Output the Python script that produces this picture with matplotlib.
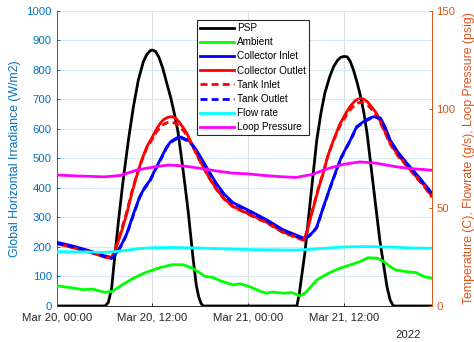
import numpy as np
import pandas as pd

import matplotlib
matplotlib.use('Agg')
import matplotlib.pyplot as plt
import matplotlib.dates as mdates

plt.rcParams['font.family'] = ['Liberation Sans', 'DejaVu Sans']
plt.rcParams['lines.scale_dashes'] = False

start = pd.Timestamp('2022-03-20 00:00')

# global horizontal irradiance, W/m2 (left axis)
psp_h = [0, 6.06, 6.47, 6.89, 7.1, 7.73, 8.35, 8.98, 9.6, 10.23, 10.86, 11.3, 11.7, 12.0, 12.4,
         12.8, 13.3, 13.8, 14.3, 14.8, 15.2, 15.7, 16.1, 16.5, 17.1, 17.5, 17.8, 18.1, 18.4,
         30.1, 30.4, 30.7, 31.1, 31.8, 32.6, 33.1, 33.6, 34.2, 34.7, 35.2, 35.6, 36.0, 36.4,
         36.8, 37.2, 37.6, 38.0, 38.5, 38.9, 39.3, 39.7, 40.1, 40.5, 41.0, 41.4, 41.8, 42.2, 47.0]
psp = [0, 0, 12, 60, 120, 285, 430, 560, 672, 765, 827, 852, 864, 867, 862,
       843, 805, 754, 705, 645, 590, 490, 405, 315, 160, 70, 31, 8, 0,
       0, 40, 100, 178, 359, 562, 650, 720, 775, 810, 832, 842, 845, 844,
       828, 799, 762, 720, 655, 585, 495, 404, 313, 223, 135, 65, 20, 0, 0]

# ambient temperature, C
amb_h = [0, 1.5, 3.3, 4.5, 6.06, 7, 8, 9.6, 11, 12.95, 14.5, 15.9, 17, 18, 18.6, 19.5,
         20.5, 22.1, 23, 24.2, 25.5, 26.3, 27, 28.4, 29.5, 30.5, 31.2, 32.6, 34, 35.5,
         36.8, 38, 39, 40.2, 41, 41.8, 42.5, 43.9, 45, 46, 47]
amb = [10.2, 9.5, 8.3, 8.6, 6.9, 7.5, 10.2, 14.1, 16.8, 19.5, 21.0, 20.9, 19.2, 16.7, 15.0, 14.6,
       12.8, 10.7, 11.3, 9.8, 7.5, 6.5, 7.1, 6.5, 6.8, 5.1, 6.8, 13.2, 16.5, 19.2,
       20.9, 22.5, 24.5, 24.3, 22.5, 20.0, 18.3, 17.4, 17.0, 15.0, 14.1]

# collector inlet / tank outlet, C
cin_h = [0, 2, 4, 6, 6.9, 7.5, 8.1, 8.8, 9.6, 10.4, 11.0, 11.7, 12.3, 12.95, 13.8,
         14.3, 14.8, 15.2, 15.6, 16.0, 16.6, 17.3, 18.0, 19.0, 20.0, 21.0, 22.1, 24.2, 26.3, 28.4,
         31.0, 31.6, 32.1, 32.6, 33.4, 34.3, 35.0, 35.7, 36.8, 37.6, 38.3, 39.0, 39.6, 40.1, 40.6,
         41.2, 41.8, 42.8, 43.9, 45.5, 47.0]
cin = [32.4, 30.5, 28.2, 25.5, 24.6, 27.0, 31.0, 36.9, 46.5, 55.5, 60.0, 63.9, 69.0, 74.1, 80.9,
       83.5, 84.8, 85.7, 85.8, 85.0, 84.0, 80.5, 75.9, 69.0, 62.3, 56.8, 52.5, 48.3, 43.8, 38.7,
       34.4, 35.7, 37.5, 40.2, 50.0, 60.6, 68.5, 75.9, 84.3, 91.1, 93.2, 95.0, 96.0, 96.2, 95.4,
       90.5, 84.3, 78.0, 72.5, 65.0, 57.5]
tout = [32.0, 30.1, 27.8, 25.1, 24.2, 26.6, 30.6, 36.5, 46.1, 55.1, 59.6, 63.5, 68.6, 73.7, 80.5,
        83.1, 84.4, 85.3, 85.4, 84.6, 83.6, 80.1, 75.5, 68.6, 61.9, 56.4, 52.1, 47.9, 43.4, 38.3,
        34.0, 35.3, 37.1, 39.8, 49.6, 60.2, 68.1, 75.5, 83.9, 90.7, 92.8, 94.6, 95.6, 95.8, 95.0,
        90.1, 83.9, 77.6, 72.1, 64.6, 57.1]

# collector outlet / tank inlet, C
cout_h = [0, 2, 4, 6, 6.8, 7.1, 7.5, 8.1, 8.8, 9.4, 10.0, 10.6, 11.3, 12.1, 12.6, 13.0, 13.4, 13.9,
          14.4, 14.9, 15.4, 15.9, 16.3, 17.1, 18.0, 19.0, 20.0, 21.0, 22.1, 24.2, 26.3, 28.4, 31.0,
          31.4, 31.8, 32.2, 32.8, 33.4, 34.0, 34.7, 35.5, 36.4, 36.9, 37.4, 37.8, 38.2, 38.6, 39.0,
          39.5, 40.1, 41.0, 41.8, 42.8, 43.9, 45.0, 46.0, 47.0]
cout = [31.7, 29.7, 27.5, 24.9, 24.2, 26.0, 30.2, 37.5, 47.1, 57.0, 65.7, 73.5, 80.9, 86.7, 90.5, 92.9, 94.7, 95.8,
        96.2, 95.5, 93.3, 90.3, 87.8, 81.0, 73.5, 66.0, 59.6, 54.5, 50.6, 46.5, 42.6, 37.5, 33.6,
        38.0, 44.5, 50.4, 59.5, 67.4, 76.5, 84.3, 92.5, 99.0, 102.0, 104.3, 105.2, 105.5, 104.8, 103.5,
        101.0, 97.8, 90.0, 82.7, 76.5, 71.4, 66.0, 61.5, 55.8]
tin = [31.7, 29.7, 27.5, 24.9, 24.2, 26.5, 30.8, 38.5, 48.0, 57.8, 66.0, 73.2, 80.3, 85.5, 89.0, 90.8, 92.3, 93.2,
       93.3, 92.8, 91.2, 89.0, 86.7, 80.6, 73.2, 65.7, 59.3, 54.2, 50.3, 46.2, 42.3, 37.2, 33.3,
       38.5, 45.0, 50.8, 59.8, 67.6, 76.3, 84.0, 91.5, 97.5, 100.3, 102.3, 103.2, 103.5, 103.0, 102.0,
       99.8, 96.8, 89.5, 82.2, 76.0, 71.0, 65.6, 61.0, 55.4]

# flow rate g/s and loop pressure psig
flow_h = [0, 3, 6, 8, 10, 12, 15, 18, 21, 24, 27, 30, 33, 36, 39, 42, 45, 47]
flow = [27.6, 27.5, 27.2, 27.9, 29.0, 29.6, 29.7, 29.4, 29.0, 28.7, 28.5, 28.4, 29.1, 30.0, 30.2, 29.9, 29.4, 29.3]
pres_h = [0, 3, 6, 8, 10, 12, 14, 16, 18, 20, 22, 24, 26, 28, 30, 32, 34, 36, 38, 40, 42, 44, 47]
pres = [66.5, 66.0, 65.6, 66.3, 69.0, 70.5, 71.6, 71.1, 69.9, 68.6, 67.5, 67.1, 66.3, 65.7, 65.3,
        66.8, 69.8, 72.0, 73.2, 72.6, 71.1, 69.9, 69.0]


def t(hours):
    return start + pd.to_timedelta(np.asarray(hours), unit='h')


c_left = '#0072BD'
c_right = '#D95319'
lw = 2.0

fig = plt.figure(figsize=(4.74, 3.42), dpi=100)
ax1 = fig.add_axes([0.1196, 0.1053, 0.7911, 0.8634])
ax2 = ax1.twinx()

ax1.plot(t(psp_h), psp, color='k', lw=lw, label='PSP')
ax2.plot(t(amb_h), amb, color='#00ff00', lw=lw, label='Ambient')
ax2.plot(t(cin_h), cin, color='#0000ff', lw=lw, label='Collector Inlet')
ax2.plot(t(cout_h), cout, color='#ff0000', lw=lw, label='Collector Outlet')
ax2.plot(t(cout_h), tin, color='#ff0000', lw=lw, ls='--', dashes=(5, 3), label='Tank Inlet')
ax2.plot(t(cin_h), tout, color='#0000ff', lw=lw, ls='--', dashes=(5, 3), label='Tank Outlet')
ax2.plot(t(flow_h), flow, color='#00ffff', lw=lw, label='Flow rate')
ax2.plot(t(pres_h), pres, color='#ff00ff', lw=lw, label='Loop Pressure')

ax1.set_xlim(start, start + pd.Timedelta(hours=47))
ax1.set_ylim(0, 1000)
ax1.set_yticks(np.arange(0, 1001, 100))
ax2.set_ylim(0, 150)
ax2.set_yticks([0, 50, 100, 150])

ax1.xaxis.set_major_locator(mdates.HourLocator(byhour=[0, 12]))
ax1.xaxis.set_major_formatter(mdates.DateFormatter('%b %d, %H:%M'))

ax1.set_axisbelow(True)
ax1.grid(axis='y', color='#d9eaf5', lw=0.8)
ax1.grid(axis='x', color='#dedede', lw=0.8)

for a in (ax1, ax2):
    a.spines['top'].set_visible(False)
ax1.spines['right'].set_visible(False)
ax2.spines['left'].set_visible(False)
ax2.spines['bottom'].set_visible(False)
ax1.spines['left'].set_color(c_left)
ax2.spines['right'].set_color(c_right)
ax1.spines['bottom'].set_color('#262626')
for s in ('left', 'bottom'):
    ax1.spines[s].set_linewidth(0.7)
ax2.spines['right'].set_linewidth(0.7)

ax1.tick_params(axis='y', direction='in', length=2.5, width=0.7, colors=c_left, labelsize=8.2, pad=3.5)
ax1.tick_params(axis='x', direction='in', length=2.5, width=0.7, colors='#262626', labelsize=8.2, pad=5)
ax2.tick_params(axis='y', direction='in', length=2.5, width=0.7, colors=c_right, labelsize=8.2, pad=3.3)

ax1.set_ylabel('Global Horizontal Irradiance (W/m2)', color=c_left, fontsize=8.8)
ax2.set_ylabel('Temperature (C), Flowrate (g/s), Loop Pressure (psig)', color=c_right, fontsize=8.8)
ax1.yaxis.set_label_coords(-0.095, 0.5)
ax2.yaxis.set_label_coords(1.083, 0.5)

fig.text(0.862, 0.02, '2022', ha='center', va='center', fontsize=8.2, color='#262626')

h1, l1 = ax1.get_legend_handles_labels()
h2, l2 = ax2.get_legend_handles_labels()
leg = ax2.legend(h1 + h2, l1 + l2, loc='upper left', bbox_to_anchor=(0.374, 0.9685),
                 borderaxespad=0, fontsize=7.2, handlelength=3.4, handletextpad=0.35,
                 labelspacing=0.42, borderpad=0.3, fancybox=False, framealpha=1)
leg.get_frame().set_edgecolor('#262626')
leg.get_frame().set_linewidth(0.8)

plt.savefig('out.png', dpi=100)
